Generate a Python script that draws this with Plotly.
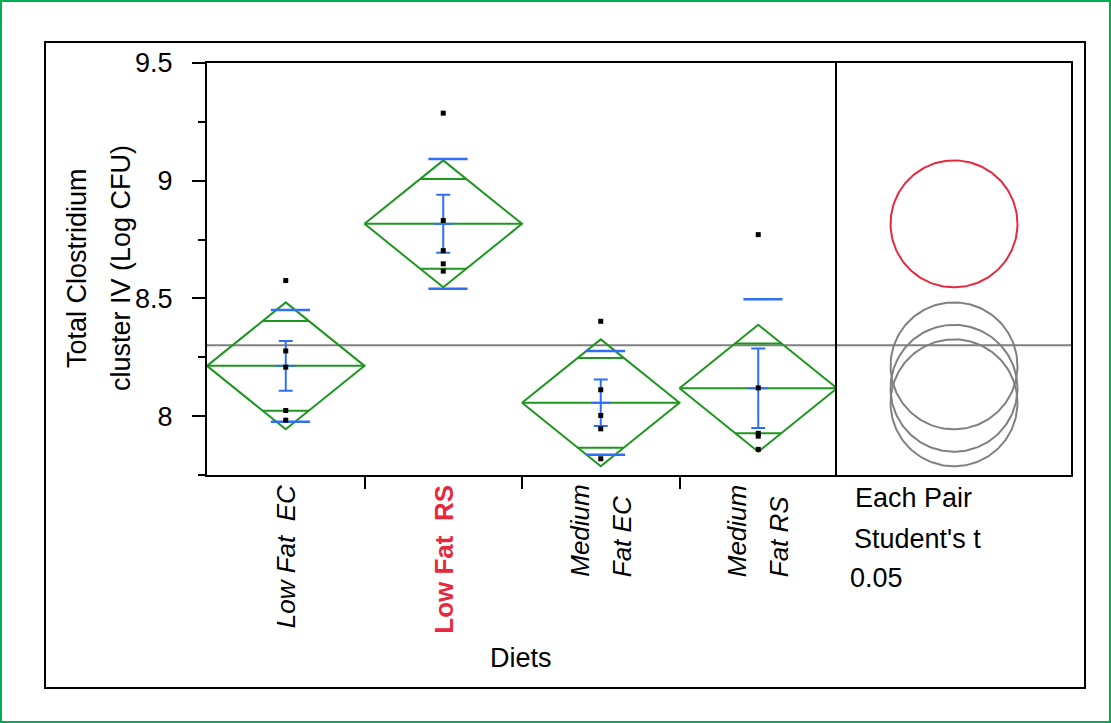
import numpy as np
import plotly.graph_objects as go

# ---------------- data ----------------
diets = ["Low Fat  EC", "Low Fat  RS", "Medium<br>Fat EC", "Medium<br>Fat RS"]
low_fat_ec = [8.576, 8.277, 8.208, 8.024, 7.983]
low_fat_rs = [9.287, 8.831, 8.703, 8.647, 8.616]
medium_fat_ec = [8.403, 8.112, 8.003, 7.946, 7.819]
medium_fat_rs = [8.771, 8.120, 7.927, 7.915, 7.859]
y_tick_vals = [8, 8.5, 9, 9.5]
y_tick_text = ["8", "8.5", "9", "9.5"]
y_title_lines = ["Total Clostridium", "cluster IV (Log CFU)"]
x_title = "Diets"
panel_text = ["Each Pair", "Student's t", "0.05"]
selected_group = 1
t_crit_df16 = 2.1199  # Student's t, alpha = 0.05, two-sided, df = 16

groups = [low_fat_ec, low_fat_rs, medium_fat_ec, medium_fat_rs]

# ---------------- layout constants ----------------
FIG_W, FIG_H = 1111, 723
M_L, M_R, M_T, M_B = 207, 40, 63, 248
PLOT_W = FIG_W - M_L - M_R
PLOT_H = FIG_H - M_T - M_B
MAIN_W = 630
PANEL_W = PLOT_W - MAIN_W
SPLIT = MAIN_W / PLOT_W
Y_RANGE = [7.75, 9.5]

GREEN = "#1f961f"
BLUE = "#2f6ff5"
RED = "#e8283c"
GRAY = "#808080"
FRAME_GREEN = "#00b050"
FONT = "Arial, Liberation Sans, sans-serif"
FS = 27
FS_X = 26


def px_x(p):
    return (p - M_L) / PLOT_W


def px_y(p):
    return (FIG_H - M_B - p) / PLOT_H


# ---------------- statistics ----------------
n = np.array([len(g) for g in groups])
means = np.array([np.mean(g) for g in groups])
sds = np.array([np.std(g, ddof=1) for g in groups])
ses = sds / np.sqrt(n)
pooled_sd = np.sqrt(np.sum((n - 1) * sds ** 2) / (n.sum() - len(groups)))
ci_half = t_crit_df16 * pooled_sd / np.sqrt(n)
grand_mean = np.mean(np.concatenate(groups))
idx = np.arange(len(groups))

fig = go.Figure()

# diamonds, mean lines, overlap marks
gx, gy = [], []
for i, (m, c) in enumerate(zip(means, ci_half)):
    gx += [i - 0.5, i, i + 0.5, i, i - 0.5, None]
    gy += [m, m + c, m, m - c, m, None]
    gx += [i - 0.5, i + 0.5, None]
    gy += [m, m, None]
    h = 0.5 * (1 - 1 / np.sqrt(2))
    for s in (1, -1):
        gx += [i - h, i + h, None]
        gy += [m + s * c / np.sqrt(2), m + s * c / np.sqrt(2), None]
fig.add_trace(go.Scatter(x=gx, y=gy, mode="lines", line=dict(color=GREEN, width=2),
                         hoverinfo="skip", showlegend=False))

# std dev lines
sd_off = 0.03
fig.add_trace(go.Scatter(
    x=np.concatenate([idx + sd_off, idx + sd_off]),
    y=np.concatenate([means + sds, means - sds]),
    mode="markers",
    marker=dict(symbol="line-ew", size=28, line=dict(color=BLUE, width=2.5)),
    showlegend=False, hoverinfo="skip"))

# mean error bars (SE)
fig.add_trace(go.Scatter(
    x=idx, y=means, mode="markers",
    marker=dict(symbol="line-ew", size=14, line=dict(color=BLUE, width=2)),
    error_y=dict(type="data", array=ses, width=7, thickness=2, color=BLUE),
    showlegend=False, hoverinfo="skip"))

# raw points
for i, g in enumerate(groups):
    fig.add_trace(go.Scatter(x=[i] * len(g), y=g, mode="markers",
                             marker=dict(symbol="square", size=5, color="black"),
                             showlegend=False))

# comparison circles
ppu_y = PLOT_H / (Y_RANGE[1] - Y_RANGE[0])
ppu_x2 = PANEL_W / 1.0
theta = np.linspace(0, 2 * np.pi, 200)
order = [i for i in idx if i != selected_group] + [selected_group]
for i in order:
    r = ci_half[i]
    fig.add_trace(go.Scatter(
        x=0.5 + r * ppu_y / ppu_x2 * np.cos(theta),
        y=means[i] + r * np.sin(theta),
        xaxis="x2", yaxis="y2", mode="lines",
        line=dict(color=RED if i == selected_group else GRAY, width=2),
        showlegend=False, hoverinfo="skip"))

# ---------------- layout ----------------
annotations = []
# x labels
line_gap = 42 / (MAIN_W / 4)
for i, lab in enumerate(diets):
    sel = i == selected_group
    font = dict(family=FONT, size=FS_X, color=RED if sel else "black",
                weight="bold" if sel else "normal",
                style="normal" if sel else "italic")
    lines = lab.split("<br>")
    if len(lines) == 1:
        annotations.append(dict(x=i, y=px_y(483), xref="x", yref="paper", text=lab,
                                textangle=-90, xanchor="center", yanchor="top",
                                showarrow=False, font=font))
    else:
        for k, ln in enumerate(lines):
            annotations.append(dict(x=i + (k - (len(lines) - 1) / 2) * line_gap,
                                    y=px_y(579), xref="x", yref="paper", text=ln,
                                    textangle=-90, xanchor="center", yanchor="bottom",
                                    showarrow=False, font=font))
# y title lines
for xp, ln in zip([77, 121], y_title_lines):
    annotations.append(dict(x=px_x(xp), y=px_y(268), xref="paper", yref="paper", text=ln,
                            textangle=-90, xanchor="center", yanchor="middle",
                            showarrow=False, font=dict(family=FONT, size=FS, color="black")))
# x title
annotations.append(dict(x=px_x(521), y=px_y(658), xref="paper", yref="paper", text=x_title,
                        xanchor="center", yanchor="middle", showarrow=False,
                        font=dict(family=FONT, size=FS, color="black")))
# panel text
for (xp, yp), t in zip([(853, 498), (852, 539), (848, 578)], panel_text):
    annotations.append(dict(x=px_x(xp), y=px_y(yp), xref="paper", yref="paper", text=t,
                            xanchor="left", yanchor="middle", showarrow=False,
                            font=dict(family=FONT, size=FS, color="black")))

shapes = [
    dict(type="line", xref="paper", yref="y", x0=0, x1=1, y0=grand_mean, y1=grand_mean,
         line=dict(color=GRAY, width=2), layer="below"),
    dict(type="rect", xref="paper", yref="paper", x0=px_x(45), x1=px_x(1085),
         y0=px_y(688), y1=px_y(42), line=dict(color="black", width=2)),
    dict(type="rect", xref="paper", yref="paper", x0=px_x(1), x1=px_x(1110),
         y0=px_y(722), y1=px_y(1), line=dict(color=FRAME_GREEN, width=2)),
]

fig.update_layout(
    width=FIG_W, height=FIG_H,
    margin=dict(l=M_L, r=M_R, t=M_T, b=M_B, pad=0),
    paper_bgcolor="white", plot_bgcolor="white",
    showlegend=False,
    font=dict(family=FONT, size=FS, color="black"),
    xaxis=dict(domain=[0, SPLIT], range=[-0.5, 3.5], tickvals=[0.5, 1.5, 2.5],
               ticktext=["", "", ""], ticks="outside", ticklen=12, tickwidth=2,
               tickcolor="black", showline=True, linewidth=2, linecolor="black",
               mirror=True, showgrid=False, zeroline=False, fixedrange=True),
    yaxis=dict(range=Y_RANGE, tickvals=y_tick_vals, ticktext=y_tick_text,
               ticks="outside", ticklen=13, tickwidth=2, tickcolor="black",
               ticklabelstandoff=14,
               minor=dict(dtick=0.25, ticks="outside", ticklen=7, tickwidth=2,
                          tickcolor="black", showgrid=False),
               showline=True, linewidth=2, linecolor="black", mirror=False,
               showgrid=False, zeroline=False, tickfont=dict(size=FS)),
    xaxis2=dict(domain=[SPLIT, 1], range=[0, 1], anchor="y2", showticklabels=False,
                ticks="", showline=True, linewidth=2, linecolor="black", mirror=True,
                showgrid=False, zeroline=False),
    yaxis2=dict(range=Y_RANGE, anchor="x2", matches="y", showticklabels=False, ticks="",
                showline=True, linewidth=2, linecolor="black", mirror=True,
                showgrid=False, zeroline=False),
    annotations=annotations,
    shapes=shapes,
)

fig.write_html("out.html", post_script="document.body.style.margin='0px';",
               config={"displayModeBar": False})
